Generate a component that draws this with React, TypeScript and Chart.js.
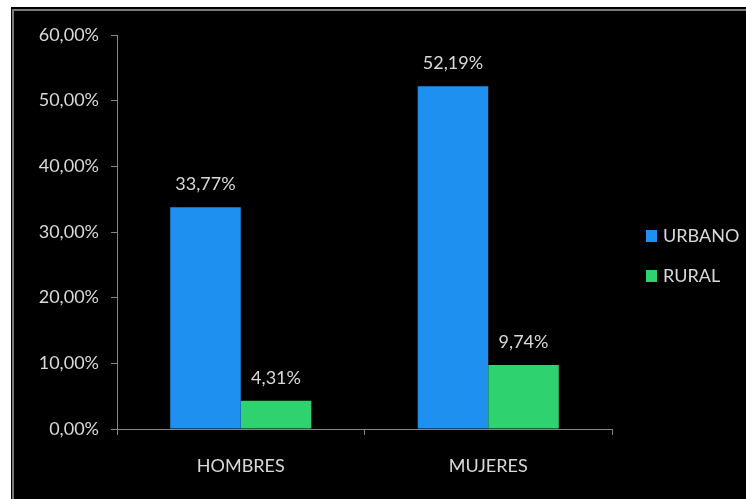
import React, { useEffect, useRef } from "react";
import { Chart, registerables } from "chart.js";

Chart.register(...registerables);

const categories = ["HOMBRES", "MUJERES"];
const seriesNames = ["URBANO", "RURAL"];
const urbano = [33.77, 52.19];
const rural = [4.31, 9.74];
const seriesColors = ["#1e90f0", "#2ed26e"];
const yTicks = [0, 10, 20, 30, 40, 50, 60];

const FONT = "Lato, 'Open Sans', sans-serif";
const FS = 18;
const TEXT = "#d9d9d9";
const AXIS = "#868686";

const fmt = (v: number) => v.toFixed(2).replace(".", ",") + "%";

const labelsPlugin = {
  id: "valueLabels",
  afterDatasetsDraw(chart: any) {
    const ctx = chart.ctx;
    ctx.save();
    ctx.fillStyle = TEXT;
    ctx.font = `${FS}px ${FONT}`;
    ctx.textAlign = "center";
    ctx.textBaseline = "bottom";
    chart.data.datasets.forEach((ds: any, di: number) => {
      const meta = chart.getDatasetMeta(di);
      meta.data.forEach((bar: any, i: number) => {
        ctx.fillText(fmt(ds.data[i]), bar.x, bar.y - 14);
      });
    });
    ctx.restore();
  },
};

const legendPlugin = {
  id: "customLegend",
  afterDraw(chart: any) {
    const ctx = chart.ctx;
    ctx.save();
    ctx.font = `${FS}px ${FONT}`;
    ctx.textBaseline = "middle";
    ctx.textAlign = "left";
    const x = chart.chartArea.right + 34;
    const ys = [229, 269];
    seriesNames.forEach((name, i) => {
      ctx.fillStyle = seriesColors[i];
      ctx.fillRect(x, ys[i] - 6, 11, 12);
      ctx.fillStyle = TEXT;
      ctx.fillText(name, x + 17, ys[i]);
    });
    ctx.restore();
  },
};

export default function App() {
  const ref = useRef<HTMLCanvasElement | null>(null);
  useEffect(() => {
    if (!ref.current) return;
    const chart = new Chart(ref.current, {
      type: "bar",
      data: {
        labels: categories,
        datasets: [
          { label: seriesNames[0], data: urbano, backgroundColor: seriesColors[0], barPercentage: 1, categoryPercentage: 0.57 },
          { label: seriesNames[1], data: rural, backgroundColor: seriesColors[1], barPercentage: 1, categoryPercentage: 0.57 },
        ],
      },
      options: {
        responsive: false,
        animation: false,
        layout: { padding: { top: 28, right: 134, left: 0, bottom: 0 } },
        plugins: { legend: { display: false }, tooltip: { enabled: false } },
        scales: {
          x: {
            grid: { display: true, drawOnChartArea: false, color: AXIS, tickLength: 6, offset: true },
            border: { color: AXIS, width: 1 },
            ticks: { color: TEXT, font: { family: FONT, size: FS }, padding: 20 },
            afterFit: (s: any) => { s.height = 70; },
          },
          y: {
            min: 0,
            max: 60,
            afterBuildTicks: (s: any) => { s.ticks = yTicks.map((v) => ({ value: v })); },
            grid: { display: true, drawOnChartArea: false, color: AXIS, tickLength: 6 },
            border: { color: AXIS, width: 1 },
            ticks: { color: TEXT, font: { family: FONT, size: FS }, padding: 12, callback: (v: any) => fmt(Number(v)) },
            afterFit: (s: any) => { s.width = 106; },
          },
        },
      },
      plugins: [labelsPlugin, legendPlugin],
    });
    return () => chart.destroy();
  }, []);

  return (
    <div style={{ position: "fixed", left: 11, top: 7, width: 735, height: 492, background: "#000", overflow: "hidden" }}>
      <div style={{ position: "absolute", left: 1, top: 2, width: 800, height: 600, borderLeft: "2px solid #7a7a7a", borderTop: "2px solid #7a7a7a" }} />
      <canvas ref={ref} width={735} height={492} style={{ position: "absolute", left: 0, top: 0 }} />
    </div>
  );
}
